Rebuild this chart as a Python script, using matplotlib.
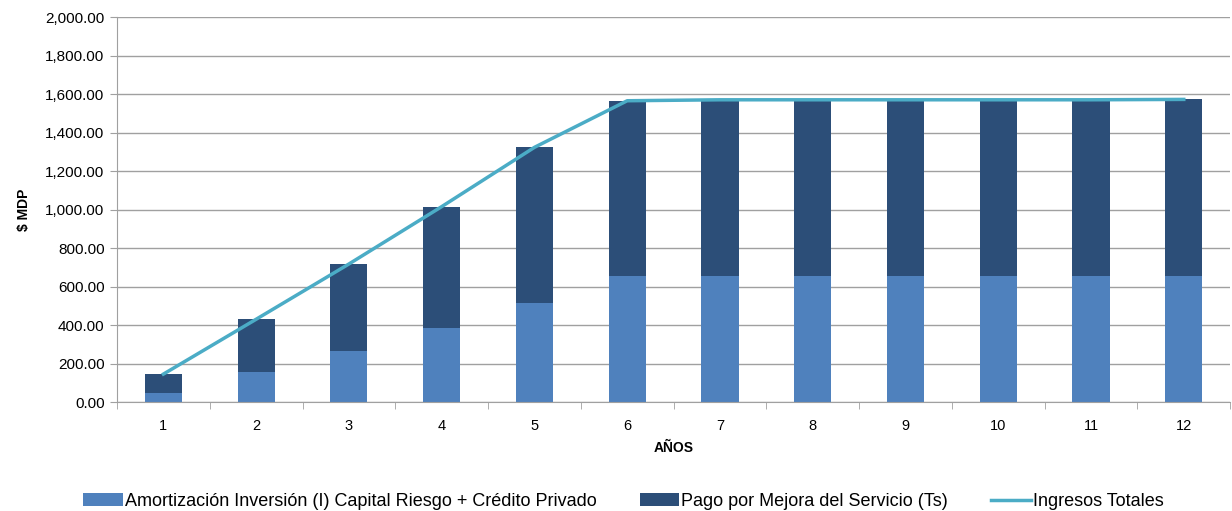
import numpy as np
import matplotlib.pyplot as plt
from matplotlib.ticker import FuncFormatter

# data
anios = [1, 2, 3, 4, 5, 6, 7, 8, 9, 10, 11, 12]
amortizacion = [48, 157, 267, 383, 512, 652, 652, 652, 652, 652, 652, 652]
pago_mejora = [97, 273, 450, 632, 811, 913, 918, 918, 918, 918, 918, 920]
ingresos = [145, 430, 717, 1015, 1323, 1565, 1570, 1570, 1570, 1570, 1570, 1572]

c_amort = '#4F81BD'
c_pago = '#2C4E78'
c_line = '#4BACC6'
c_grid = '#A0A0A0'

plt.rcParams['font.family'] = ['Liberation Sans Narrow', 'Liberation Sans', 'DejaVu Sans']

fig = plt.figure(figsize=(12.32, 5.11), dpi=100)
ax = fig.add_axes([0.095, 0.2133, 0.9035, 0.7534])

x = np.arange(len(anios))
b1 = ax.bar(x, amortizacion, width=0.4, color=c_amort, zorder=2,
            label='Amortización Inversión (I) Capital Riesgo + Crédito Privado')
b2 = ax.bar(x, pago_mejora, width=0.4, bottom=amortizacion, color=c_pago, zorder=2,
            label='Pago por Mejora del Servicio (Ts)')
l1, = ax.plot(x, ingresos, color=c_line, lw=2.5, zorder=3, label='Ingresos Totales')

ax.set_xlim(-0.5, len(anios) - 0.5)
ax.set_ylim(0, 2000)
ax.set_yticks(np.arange(0, 2001, 200))
ax.yaxis.set_major_formatter(FuncFormatter(lambda v, p: f'{v:,.2f}'))
ax.set_xticks(x)
ax.set_xticklabels([str(a) for a in anios])
ax.set_xticks(np.arange(-0.5, len(anios), 1), minor=True)
ax.tick_params(axis='x', which='major', length=0, pad=12, labelsize=10.5)
ax.tick_params(axis='x', which='minor', length=5, color=c_grid)
ax.tick_params(axis='y', length=5, color=c_grid, labelsize=11, pad=4)

ax.grid(axis='y', color=c_grid, lw=1, zorder=0)
for s in ['top', 'right']:
    ax.spines[s].set_visible(False)
for s in ['left', 'bottom']:
    ax.spines[s].set_color(c_grid)

ax.set_ylabel('$ MDP', fontweight='bold', fontsize=10, labelpad=10)
ax.set_xlabel('AÑOS', fontweight='bold', fontsize=10, labelpad=6)

fig.legend([b1, b2, l1], [b1.get_label(), b2.get_label(), l1.get_label()],
           loc='lower center', bbox_to_anchor=(0.506, -0.03), ncol=3, frameon=False,
           fontsize=13, handlelength=2.2, handletextpad=0.1, columnspacing=2.4)

fig.savefig('out.png', dpi=100)
